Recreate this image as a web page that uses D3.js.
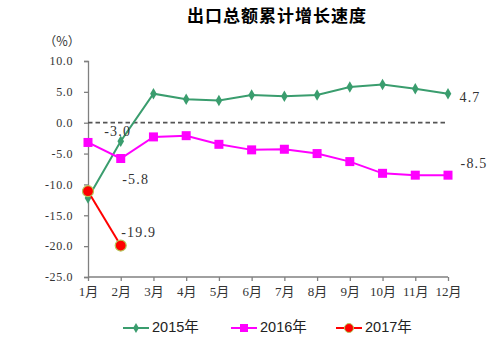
<!DOCTYPE html>
<html>
<head>
<meta charset="utf-8">
<script src="https://cdn.jsdelivr.net/npm/d3@7/dist/d3.min.js"></script>
<style>
  html, body { margin: 0; padding: 0; background: #fff; }
  svg { display: block; }
</style>
</head>
<body>
<svg id="chart" width="499" height="342"></svg>
<script>
// Monthly cumulative export growth (%)
const months = ["1月","2月","3月","4月","5月","6月","7月","8月","9月","10月","11月","12月"];
const s2015 = [-12.2, -3.0, 4.7, 3.8, 3.6, 4.5, 4.3, 4.5, 5.8, 6.2, 5.5, 4.7];
const s2016 = [-3.2, -5.8, -2.3, -2.1, -3.5, -4.4, -4.3, -5.0, -6.3, -8.2, -8.5, -8.5];
const s2017 = [-11.1, -19.9];
const seriesNames = ["2015年", "2016年", "2017年"];
const yTicks = [-25, -20, -15, -10, -5, 0, 5, 10];

const svg = d3.select("#chart");
const x = d3.scalePoint().domain(months).range([88, 448]);
const y = d3.scaleLinear().domain([-25, 10]).range([277, 61]);

const serifFont = "'Liberation Serif', 'Noto Sans CJK SC', serif";
const cjkFont = "'Noto Sans CJK SC', sans-serif";

// Title
svg.append("text")
  .attr("x", 277).attr("y", 22)
  .attr("text-anchor", "middle")
  .style("font-family", cjkFont)
  .style("font-weight", "bold")
  .style("font-size", "17px")
  .style("letter-spacing", "1px")
  .attr("fill", "#000")
  .text("出口总额累计增长速度");

// Unit label
svg.append("text")
  .attr("x", 62).attr("y", 46)
  .attr("text-anchor", "middle")
  .style("font-family", cjkFont)
  .style("font-size", "12.5px")
  .attr("fill", "#333")
  .text("（%）");

// Y axis
const yAxis = svg.append("g")
  .attr("transform", "translate(88,0)")
  .call(d3.axisLeft(y).tickValues(yTicks).tickSize(4).tickPadding(11)
    .tickFormat(d => d.toFixed(1)));
yAxis.selectAll("path, line").attr("stroke", "#808080").attr("stroke-width", 1.3);
yAxis.selectAll("text")
  .style("font-family", serifFont)
  .style("font-size", "12px")
  .style("letter-spacing", "0.6px")
  .attr("fill", "#333");

// X axis
const xAxis = svg.append("g")
  .attr("transform", `translate(0,${y(-25)})`)
  .call(d3.axisBottom(x).tickSize(4).tickPadding(6).tickSizeOuter(0));
xAxis.select(".domain").attr("d", `M88,0H448`);
xAxis.selectAll("path, line").attr("stroke", "#808080").attr("stroke-width", 1.3);
xAxis.selectAll("text")
  .style("font-family", serifFont)
  .style("font-size", "13px")
  .attr("fill", "#333");

// Zero reference line
svg.append("line")
  .attr("x1", x(months[0])).attr("x2", x(months[11]))
  .attr("y1", y(0)).attr("y2", y(0))
  .attr("stroke", "#555").attr("stroke-width", 1.7)
  .attr("stroke-dasharray", "4.5,3");

const line = d3.line().x((d, i) => x(months[i])).y(d => y(d));

const green = "#3a9d6e", magenta = "#ff00ff", red = "#ff0000";

// 2015 series
svg.append("path").datum(s2015).attr("d", line)
  .attr("fill", "none").attr("stroke", green).attr("stroke-width", 2);
svg.selectAll(".d2015").data(s2015).enter().append("path")
  .attr("transform", (d, i) => `translate(${x(months[i])},${y(d)})`)
  .attr("d", d3.symbol(d3.symbolDiamond, 38))
  .attr("fill", green);

// 2016 series
svg.append("path").datum(s2016).attr("d", line)
  .attr("fill", "none").attr("stroke", magenta).attr("stroke-width", 2);
svg.selectAll(".d2016").data(s2016).enter().append("rect")
  .attr("x", (d, i) => x(months[i]) - 4.5).attr("y", d => y(d) - 4.5)
  .attr("width", 9).attr("height", 9)
  .attr("fill", magenta);

// 2017 series
svg.append("path").datum(s2017).attr("d", line)
  .attr("fill", "none").attr("stroke", red).attr("stroke-width", 2);
svg.selectAll(".d2017").data(s2017).enter().append("circle")
  .attr("cx", (d, i) => x(months[i])).attr("cy", d => y(d)).attr("r", 5.5)
  .attr("fill", red).attr("stroke", "#b5c85a").attr("stroke-width", 1.2);

// Value labels
const labels = [
  { m: 1, v: s2015[1], dx: -3, dy: -8 },
  { m: 1, v: s2016[1], dx: 15, dy: 22 },
  { m: 11, v: s2015[11], dx: 22, dy: 5 },
  { m: 11, v: s2016[11], dx: 26, dy: -10 },
  { m: 1, v: s2017[1], dx: 18, dy: -12 }
];
svg.selectAll(".vlabel").data(labels).enter().append("text")
  .attr("x", d => x(months[d.m]) + d.dx)
  .attr("y", d => y(d.v) + d.dy)
  .attr("text-anchor", "middle")
  .attr("dominant-baseline", "middle")
  .style("font-family", serifFont)
  .style("font-size", "14px")
  .style("letter-spacing", "1.2px")
  .attr("fill", "#333")
  .text(d => d.v.toFixed(1));

// Legend
const legend = [
  { name: seriesNames[0], color: green, x: 123, shape: "diamond" },
  { name: seriesNames[1], color: magenta, x: 231, shape: "square" },
  { name: seriesNames[2], color: red, x: 336, shape: "circle" }
];
const ly = 328;
legend.forEach(l => {
  const g = svg.append("g");
  g.append("line").attr("x1", l.x).attr("x2", l.x + 26).attr("y1", ly).attr("y2", ly)
    .attr("stroke", l.color).attr("stroke-width", 2);
  const cx = l.x + 13;
  if (l.shape === "diamond") {
    g.append("path").attr("transform", `translate(${cx},${ly})`)
      .attr("d", d3.symbol(d3.symbolDiamond, 30)).attr("fill", l.color);
  } else if (l.shape === "square") {
    g.append("rect").attr("x", cx - 4).attr("y", ly - 4).attr("width", 8).attr("height", 8)
      .attr("fill", l.color);
  } else {
    g.append("circle").attr("cx", cx).attr("cy", ly).attr("r", 4.5)
      .attr("fill", l.color).attr("stroke", "#b5c85a").attr("stroke-width", 1);
  }
  g.append("text").attr("x", l.x + 29).attr("y", ly).attr("dominant-baseline", "middle")
    .style("font-family", "'Liberation Sans', 'Noto Sans CJK SC', sans-serif")
    .style("font-size", "14.5px")
    .attr("fill", "#222")
    .text(l.name);
});
</script>
</body>
</html>
